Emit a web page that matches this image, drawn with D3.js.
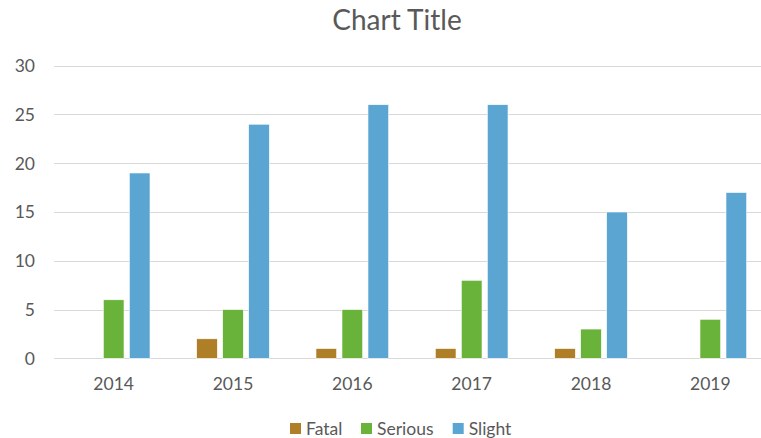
<!DOCTYPE html>
<html>
<head>
<meta charset="utf-8">
<script src="https://cdn.jsdelivr.net/npm/d3@7"></script>
<style>
  body { margin: 0; background: #fff; }
  svg { display: block; }
  text { font-family: Lato, "Open Sans", sans-serif; fill: #595959; }
</style>
</head>
<body>
<div id="chart"></div>
<script>
const years = ['2014', '2015', '2016', '2017', '2018', '2019'];
const series = ['Fatal', 'Serious', 'Slight'];
const fatal = [0, 2, 1, 1, 1, 0];
const serious = [6, 5, 5, 8, 3, 4];
const slight = [19, 24, 26, 26, 15, 17];
const yTicks = [0, 5, 10, 15, 20, 25, 30];
const colors = ['#AE7F26', '#69B33A', '#5BA5D3'];

const width = 761, height = 438;
const values = [fatal, serious, slight];

const svg = d3.select('#chart')
    .append('svg')
    .attr('width', width)
    .attr('height', height);

const x = d3.scaleBand()
    .domain(years)
    .range([54, 770]);

const groupWidth = 72.7;
const xSub = d3.scaleBand()
    .domain(series)
    .range([0, groupWidth])
    .paddingInner(0.204);

const y = d3.scaleLinear()
    .domain([0, 30])
    .range([358.3, 65.7]);

// gridlines
svg.append('g')
    .selectAll('line')
    .data(yTicks)
    .join('line')
    .attr('x1', 54)
    .attr('x2', 770)
    .attr('y1', d => Math.round(y(d)) + 0.5)
    .attr('y2', d => Math.round(y(d)) + 0.5)
    .attr('stroke', '#D9D9D9')
    .attr('stroke-width', 1);

// y labels
svg.append('g')
    .selectAll('text')
    .data(yTicks)
    .join('text')
    .attr('x', 35)
    .attr('y', d => y(d))
    .attr('dy', '0.36em')
    .attr('text-anchor', 'end')
    .style('font-size', '17.5px')
    .text(d => d);

// bars
series.forEach((s, i) => {
    svg.append('g')
        .selectAll('rect')
        .data(years.map((yr, j) => ({ year: yr, value: values[i][j] })))
        .join('rect')
        .attr('x', d => x(d.year) + (x.bandwidth() - groupWidth) / 2 + xSub(s))
        .attr('width', xSub.bandwidth())
        .attr('y', d => y(d.value))
        .attr('height', d => y(0) - y(d.value))
        .attr('fill', colors[i])
        .attr('stroke', '#fff')
        .attr('stroke-width', 0.6);
});

// x labels
svg.append('g')
    .selectAll('text')
    .data(years)
    .join('text')
    .attr('x', d => x(d) + x.bandwidth() / 2)
    .attr('y', 389.5)
    .attr('text-anchor', 'middle')
    .style('font-size', '17.5px')
    .text(d => d);

// title
svg.append('text')
    .attr('x', 397)
    .attr('y', 30)
    .attr('text-anchor', 'middle')
    .style('font-size', '28px')
    .text('Chart Title');

// legend
const legendX = [290, 361, 452.7];
const legend = svg.append('g');
series.forEach((s, i) => {
    legend.append('rect')
        .attr('x', legendX[i])
        .attr('y', 423)
        .attr('width', 11)
        .attr('height', 11)
        .attr('fill', colors[i]);
    legend.append('text')
        .attr('x', legendX[i] + 16)
        .attr('y', 434.5)
        .style('font-size', '17.5px')
        .text(s);
});
</script>
</body>
</html>
